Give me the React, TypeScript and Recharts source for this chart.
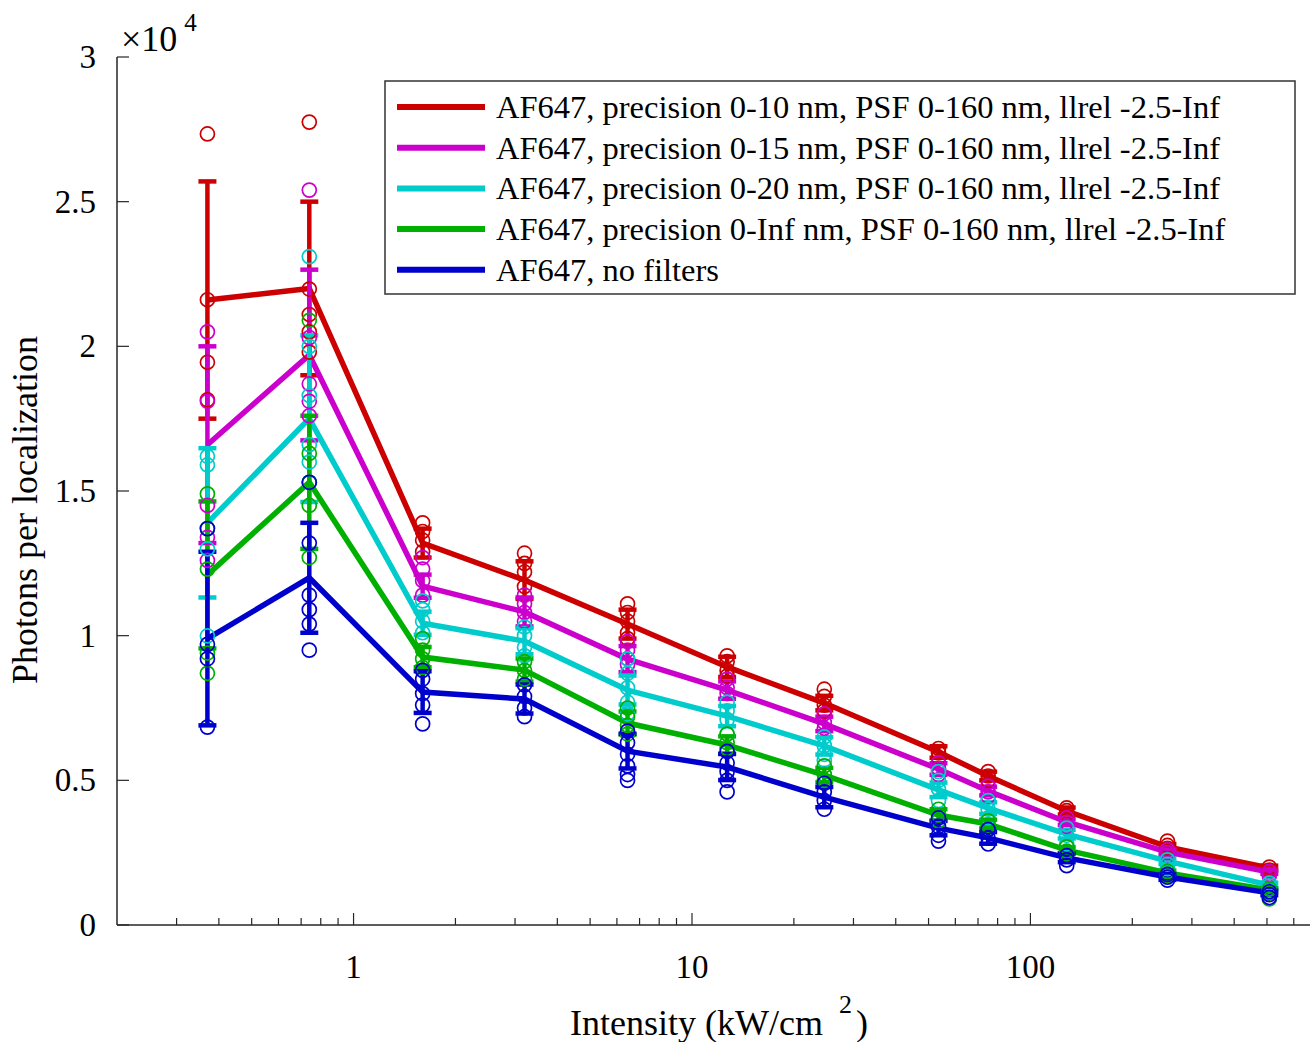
import React from 'react';
import { ComposedChart, Line, Scatter, XAxis, YAxis, ErrorBar, Legend } from 'recharts';

// intensity values (kW/cm^2), one per measurement column
const intensity = [0.37, 0.74, 1.6, 3.2, 6.45, 12.7, 24.6, 53.5, 75, 128, 254, 508];

// mean photons per localization
const redMean = [21600, 22000, 13200, 11920, 10400, 8920, 7670, 5980, 5150, 3940, 2700, 1970];
const magentaMean = [16600, 19700, 11710, 10820, 9190, 8120, 6950, 5390, 4630, 3560, 2520, 1830];
const cyanMean = [13900, 17500, 10430, 9810, 8120, 7220, 6190, 4670, 4040, 3140, 2210, 1380];
const greenMean = [12100, 15300, 9260, 8810, 6980, 6220, 5180, 3800, 3490, 2590, 1800, 1210];
const blueMean = [9900, 12000, 8050, 7810, 6010, 5460, 4420, 3350, 3010, 2320, 1660, 1110];

// standard deviation (error bars)
const redErr = [4100, 3000, 500, 650, 500, 350, 250, 200, 150, 120, 100, 80];
const magentaErr = [3400, 2950, 400, 500, 450, 300, 250, 200, 150, 100, 80, 60];
const cyanErr = [2580, 2880, 400, 450, 500, 350, 300, 250, 200, 150, 100, 80];
const greenErr = [2540, 2300, 350, 400, 400, 300, 250, 200, 150, 100, 80, 60];
const blueErr = [3000, 1900, 720, 500, 600, 450, 350, 250, 200, 150, 100, 80];

// individual measurements per column
const redPts = [
  [27340, 21610, 19450, 18150],
  [27750, 21980, 21100, 20500, 19800],
  [13900, 13600, 13300, 12900],
  [12850, 12500, 12200, 11700],
  [11100, 10800, 10500, 10100, 9900],
  [9300, 9100, 8800, 8600],
  [8150, 7900, 7600, 7400],
  [6100, 5950, 5800],
  [5300, 5150, 5000],
  [4050, 3950, 3850],
  [2900, 2750, 2650],
  [2000, 1900, 1850],
];
const magentaPts = [
  [20500, 18100, 14500, 13400, 12600],
  [25400, 20300, 18700, 18100, 17600],
  [12700, 12300, 11900, 11400],
  [11400, 11100, 10800, 10500],
  [9800, 9500, 9200, 9000],
  [8500, 8200, 8000],
  [7300, 7000, 6800],
  [5600, 5400, 5200],
  [4800, 4600, 4450],
  [3700, 3550, 3400],
  [2600, 2500, 2400],
  [1850, 1750, 1700],
];
const cyanPts = [
  [16200, 15900, 13000, 9990],
  [23100, 20000, 18300, 16600, 16000, 15300],
  [11200, 10900, 10500, 10100],
  [10300, 10000, 9600, 9300],
  [9200, 8700, 8200, 7700, 7300],
  [7700, 7400, 7100, 6600],
  [6500, 6200, 5900, 5700],
  [5300, 5000, 4700, 4300],
  [4300, 4000, 3700],
  [3350, 3100, 2800],
  [2250, 2100, 1950],
  [1450, 1350, 1250],
];
const greenPts = [
  [14900, 13700, 12300, 9400, 8700],
  [20900, 16300, 15300, 14500, 12700],
  [9900, 9500, 9200, 8900],
  [9100, 8800, 8500],
  [7500, 7200, 6900, 6600],
  [6600, 6300, 6100],
  [5500, 5200, 5000],
  [4000, 3800, 3600],
  [3600, 3450, 3300],
  [2700, 2550, 2450],
  [1850, 1750, 1700],
  [1250, 1100, 900],
];
const bluePts = [
  [13700, 9700, 9200, 6840],
  [15300, 13200, 11400, 10900, 10400, 9500],
  [8800, 8500, 8000, 7600, 6950],
  [8300, 7900, 7500, 7200],
  [6700, 6300, 5900, 5500, 5200, 5000],
  [6000, 5600, 5300, 5000, 4600],
  [4900, 4600, 4300, 4000],
  [3700, 3400, 3100, 2900],
  [3300, 3000, 2800],
  [2400, 2250, 2050],
  [1750, 1650, 1550],
  [1150, 1050, 950],
];

const seriesNames = [
  'AF647, precision 0-10 nm, PSF 0-160 nm, llrel -2.5-Inf',
  'AF647, precision 0-15 nm, PSF 0-160 nm, llrel -2.5-Inf',
  'AF647, precision 0-20 nm, PSF 0-160 nm, llrel -2.5-Inf',
  'AF647, precision 0-Inf nm, PSF 0-160 nm, llrel -2.5-Inf',
  'AF647, no filters',
];
const colors = ['#cc0000', '#cc00cc', '#00cccc', '#00b000', '#0000cc'];

const xTicks = [0.3, 0.4, 0.5, 0.6, 0.7, 0.8, 0.9, 1, 2, 3, 4, 5, 6, 7, 8, 9, 10,
  20, 30, 40, 50, 60, 70, 80, 90, 100, 200, 300, 400, 500, 600];
const xMajor = [1, 10, 100];
const yTicks = [0, 5000, 10000, 15000, 20000, 25000, 30000];

const means = [redMean, magentaMean, cyanMean, greenMean, blueMean];
const errs = [redErr, magentaErr, cyanErr, greenErr, blueErr];
const pts = [redPts, magentaPts, cyanPts, greenPts, bluePts];

const series = seriesNames.map((name, i) => ({
  name,
  color: colors[i],
  line: intensity.map((x, j) => ({ x, y: means[i][j], e: errs[i][j] })),
  dots: pts[i].flatMap((col, j) => col.map((y) => ({ x: intensity[j], y }))),
}));

const FONT = '"Liberation Serif", "Times New Roman", serif';
const AXIS = '#262626';

const XTick = (props: any) => {
  const { x, y, payload } = props;
  const major = xMajor.includes(payload.value);
  return (
    <g>
      <line x1={x} x2={x} y1={y} y2={y - (major ? 12 : 7)} stroke={AXIS} strokeWidth={1.2} />
      {major && (
        <text x={x} y={y + 53} textAnchor="middle" fontSize={33} fontFamily={FONT} fill="#000">
          {payload.value}
        </text>
      )}
    </g>
  );
};

const YTick = (props: any) => {
  const { x, y, payload } = props;
  const v = payload.value;
  return (
    <g>
      <line x1={x} x2={x + 12} y1={y} y2={y} stroke={AXIS} strokeWidth={1.2} />
      <text x={x - 21} y={y + 11} textAnchor="end" fontSize={33} fontFamily={FONT} fill="#000">
        {v / 10000}
      </text>
      {v === 30000 && (
        <text x={x + 4} y={y - 6} fontSize={36} fontFamily={FONT} fill="#000">
          ×10
          <tspan fontSize={25} dx={7} dy={-20}>4</tspan>
        </text>
      )}
    </g>
  );
};

const renderLegend = () => (
  <svg width={912} height={215} style={{ display: 'block' }}>
    <rect x={1} y={1} width={910} height={213} fill="#fff" stroke="#333" strokeWidth={1.5} />
    {series.map((s, i) => {
      const cy = 27 + i * 40.7;
      return (
        <g key={s.name}>
          <line x1={13} x2={101} y1={cy} y2={cy} stroke={s.color} strokeWidth={6} />
          <text x={112} y={cy + 11} fontSize={32.5} fontFamily={FONT} fill="#000">
            {s.name}
          </text>
        </g>
      );
    })}
  </svg>
);

export default function App() {
  return (
    <div style={{ position: 'absolute', left: 0, top: 0, width: 1313, height: 1042, background: '#fff' }}>
      <ComposedChart width={1313} height={1042} margin={{ top: 57, right: 3, bottom: 0, left: 0 }}>
        <XAxis
          dataKey="x"
          type="number"
          scale="log"
          domain={[0.2, 670]}
          allowDataOverflow
          ticks={xTicks}
          interval={0}
          tickSize={0}
          tickMargin={0}
          tickLine={false}
          tick={<XTick />}
          height={117}
          axisLine={{ stroke: AXIS, strokeWidth: 1.5 }}
          label={{
            content: () => (
              <text x={719} y={1035} textAnchor="middle" fontSize={36} fontFamily={FONT} fill="#000">
                Intensity (kW/cm
                <tspan fontSize={26} dx={16} dy={-22}>2</tspan>
                <tspan dx={4} dy={22}>)</tspan>
              </text>
            ),
          }}
        />
        <YAxis
          type="number"
          domain={[0, 30000]}
          ticks={yTicks}
          interval={0}
          width={117}
          tickSize={0}
          tickMargin={0}
          tickLine={false}
          tick={<YTick />}
          axisLine={{ stroke: AXIS, strokeWidth: 1.5 }}
          label={{
            content: () => (
              <text
                x={37}
                y={510}
                transform="rotate(-90, 37, 510)"
                textAnchor="middle"
                fontSize={36}
                fontFamily={FONT}
                fill="#000"
              >
                Photons per localization
              </text>
            ),
          }}
        />
        {series.map((s) => (
          <Scatter
            key={`sc-${s.name}`}
            name={s.name}
            data={s.dots}
            dataKey="y"
            isAnimationActive={false}
            legendType="none"
            shape={(p: any) => (
              <circle cx={p.cx} cy={p.cy} r={7} fill="none" stroke={s.color} strokeWidth={1.7} />
            )}
          />
        ))}
        {series.map((s) => (
          <Line
            key={`ln-${s.name}`}
            name={s.name}
            data={s.line}
            dataKey="y"
            type="linear"
            stroke={s.color}
            strokeWidth={5.5}
            dot={false}
            activeDot={false}
            isAnimationActive={false}
          >
            <ErrorBar dataKey="e" direction="y" width={9} strokeWidth={4.5} stroke={s.color} />
          </Line>
        ))}
        <Legend
          layout="vertical"
          align="center"
          verticalAlign="middle"
          content={renderLegend}
          wrapperStyle={{ position: 'absolute', left: 384, top: 80, width: 912, height: 215 }}
        />
      </ComposedChart>
    </div>
  );
}
